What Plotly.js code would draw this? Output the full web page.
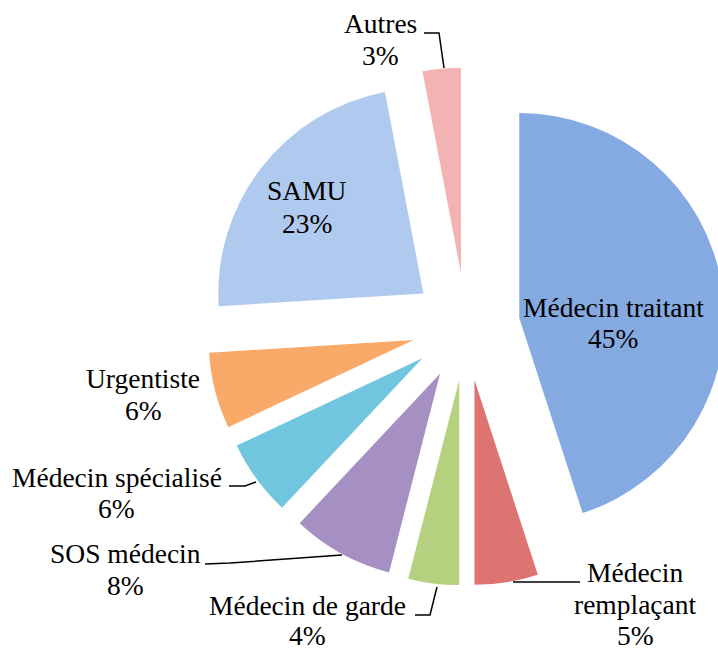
<!DOCTYPE html>
<html>
<head>
<meta charset="utf-8">
<script src="https://cdn.plot.ly/plotly-3.0.1.min.js"></script>
<style>
html,body{margin:0;padding:0;overflow:hidden;background:#fff;}
#chart{width:740px;height:650px;}
</style>
</head>
<body>
<div id="chart"></div>
<script>
// ---- data ----
var categories = ["Médecin traitant", "Médecin remplaçant", "Médecin de garde", "SOS médecin",
                  "Médecin spécialisé", "Urgentiste", "SAMU", "Autres"];
var values = [45, 5, 4, 8, 6, 6, 23, 3];
// label lines as displayed (name may wrap)
var labelNames = [["Médecin traitant"], ["Médecin", "remplaçant"], ["Médecin de garde"], ["SOS médecin"],
                  ["Médecin spécialisé"], ["Urgentiste"], ["SAMU"], ["Autres"]];

// ---- styles / layout ----
var colors = ["#85aae2", "#dc7572", "#b5d07e", "#a68fc3", "#6fc6de", "#f9aa69", "#b0c9ee", "#f2b3b2"];
var W = 740, H = 650;
// label anchor: center x, first baseline y, line step (pixels)
var labelPos = [
  [613, 317, 31], [635, 582, 31.5], [307, 615, 29.5], [125.5, 563, 32],
  [116.5, 487, 31], [143, 388, 32], [307, 200, 33], [380, 33, 32]
];
var leaders = [
  null,
  [[513, 582], [580, 582]],
  [[415, 615], [430, 615], [437, 587]],
  [[205, 564], [230, 563], [342, 555]],
  [[229, 486], [245, 486], [256, 482]],
  null,
  null,
  [[424, 33], [439, 33], [444, 68]]
];
var FONT = {family: "Liberation Serif", size: 27.5, color: "#000"};

function px(x) { return x / W; }
function py(y) { return 1 - y / H; }

var annotations = [];
var shapes = [];
for (var i = 0; i < categories.length; i++) {
  var lines = labelNames[i].concat([values[i] + "%"]);
  var p = labelPos[i];
  for (var j = 0; j < lines.length; j++) {
    var base = p[1] + j * p[2];
    annotations.push({
      xref: "paper", yref: "paper",
      x: px(p[0]), y: py(base - 9.3),
      xanchor: "center", yanchor: "middle",
      text: lines[j], showarrow: false, font: FONT,
      borderpad: 0, borderwidth: 0
    });
  }
  if (leaders[i]) {
    var d = "";
    leaders[i].forEach(function (pt, k) {
      d += (k === 0 ? "M " : " L ") + px(pt[0]) + "," + py(pt[1]);
    });
    shapes.push({type: "path", xref: "paper", yref: "paper", path: d,
                 line: {color: "#000", width: 1.5}});
  }
}

var trace = {
  type: "pie",
  labels: categories,
  values: values,
  sort: false,
  direction: "clockwise",
  rotation: 0,
  pull: 0.263,
  textinfo: "none",
  hoverinfo: "label+percent",
  marker: {colors: colors, line: {width: 0}},
  domain: {x: [207 / W, 725 / W], y: [1 - 585.5 / H, 1 - 67.5 / H]},
  showlegend: false
};

var layout = {
  width: W, height: H,
  margin: {l: 0, r: 0, t: 0, b: 0},
  paper_bgcolor: "#fff",
  showlegend: false,
  annotations: annotations,
  shapes: shapes
};

Plotly.newPlot("chart", [trace], layout, {displayModeBar: false, staticPlot: true});
</script>
</body>
</html>
